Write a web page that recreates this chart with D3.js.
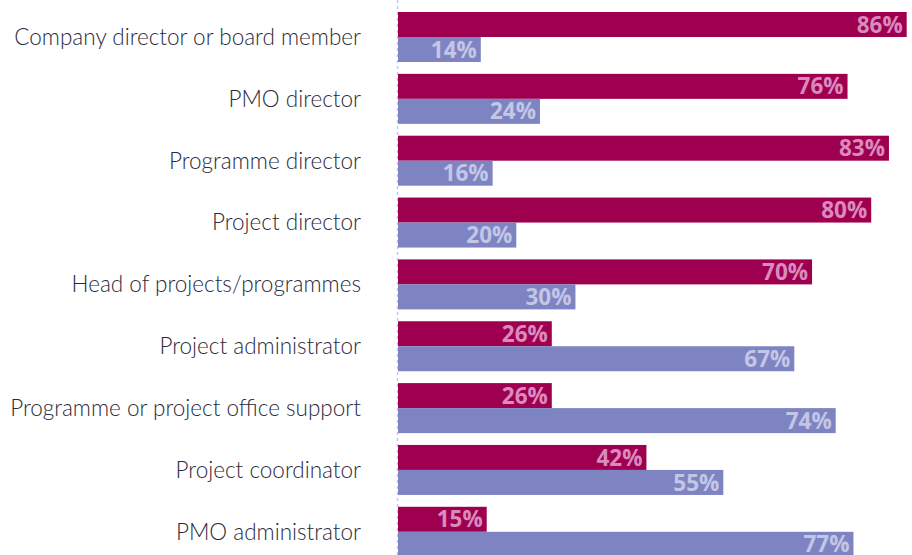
<!DOCTYPE html>
<html><head><meta charset="utf-8">
<script src="https://cdn.jsdelivr.net/npm/d3@7"></script>
<style>html,body{margin:0;padding:0;background:#fff;}svg{display:block;}</style>
</head><body>
<svg id="chart" width="912" height="555"></svg>
<script>
const categories = ["Company director or board member","PMO director","Programme director","Project director","Head of projects/programmes","Project administrator","Programme or project office support","Project coordinator","PMO administrator"];
const seriesA = [86,76,83,80,70,26,26,42,15];
const seriesB = [14,24,16,20,30,67,74,55,77];
const seriesKeys = ["A","B"];
const colors = {A:"#9e004f", B:"#7e84c2"};
const labelColors = {A:"#d98bbd", B:"#c3c6e6"};

const svg = d3.select("#chart");
const W = 912, H = 555;
const x = d3.scaleLinear().domain([0,100]).range([398, 989.5]);
const y = d3.scaleBand().domain(categories).range([12, 556.8]).paddingInner(0.1916).paddingOuter(0);
const ys = d3.scaleBand().domain(seriesKeys).range([0, y.bandwidth()]);

const data = categories.map((c,i)=>({cat:c, A:seriesA[i], B:seriesB[i]}));

// dashed baseline
svg.append("line").attr("x1",x(0)-0.5).attr("x2",x(0)-0.5).attr("y1",0).attr("y2",H)
  .attr("stroke","#c4c7e5").attr("stroke-width",1.5).attr("stroke-dasharray","3,3");

const g = svg.append("g").selectAll("g").data(data).join("g")
  .attr("transform", d=>`translate(0,${y(d.cat)})`);

seriesKeys.forEach(k=>{
  g.append("rect").attr("x",x(0)).attr("y",ys(k)).attr("width",d=>x(d[k])-x(0)).attr("height",ys.bandwidth())
    .attr("fill",colors[k]);
  g.append("text").attr("x",d=>x(d[k])-4).attr("y",ys(k)+ys.bandwidth()/2).attr("dy","0.36em")
    .attr("text-anchor","end").attr("font-family","'Open Sans', sans-serif").attr("font-weight",700)
    .attr("font-size",22.5).attr("fill",labelColors[k]).text(d=>d[k]+"%");
});

// category labels
const yAxis = d3.axisLeft(y).tickSize(0).tickPadding(0);
const ax = svg.append("g").attr("transform",`translate(361,0)`).call(yAxis);
ax.select(".domain").remove();
ax.selectAll("text").attr("font-family","Lato, sans-serif").attr("font-weight",300).attr("font-size",22.5).attr("fill","#2b2a3c").attr("dy","0.35em");
</script>
</body></html>
